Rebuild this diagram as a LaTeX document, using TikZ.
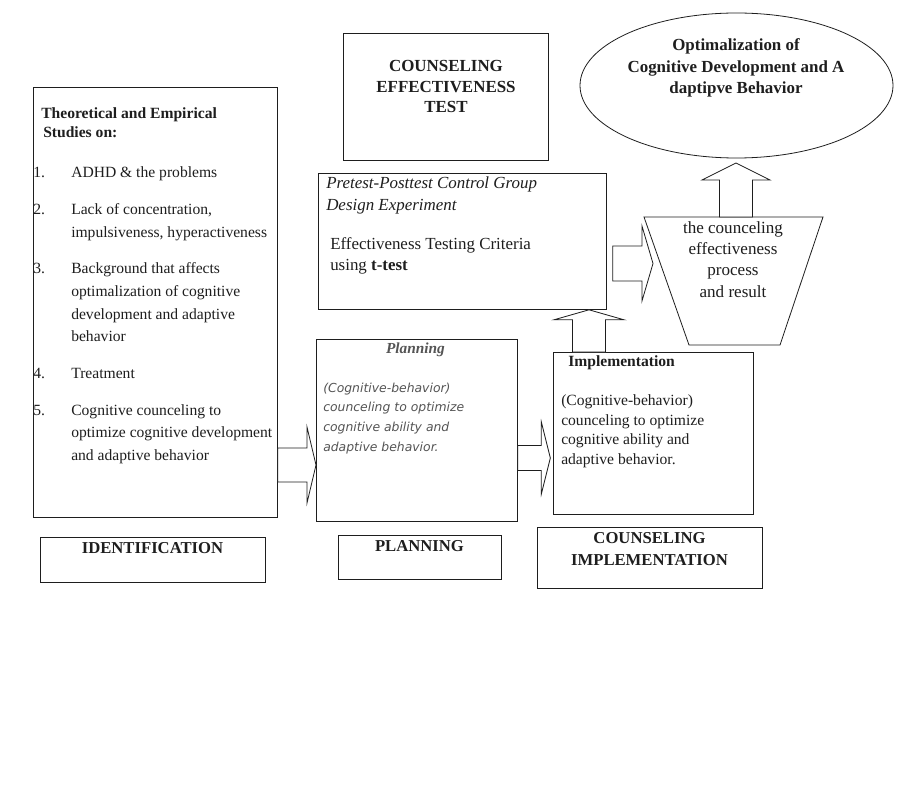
\documentclass[tikz,border=0pt]{standalone}
\usepackage{fontspec}
\setmainfont{Liberation Serif}
\newfontfamily\plansans{DejaVu Sans}
\usepackage{tikz}
\usetikzlibrary{calc,positioning,shapes.geometric}
\definecolor{inkgray}{RGB}{30,30,30}
\definecolor{planninggray}{RGB}{85,85,85}
\tikzset{
  box/.style={draw=inkgray,line width=0.6pt,rectangle,inner sep=0pt,anchor=north west},
  blockarrow/.style={draw=inkgray,line width=0.6pt,fill=white},
  bodytext/.style={inner sep=0pt,text=inkgray,font=\fontsize{11.7}{14.6}\selectfont},
  headtext/.style={inner sep=0pt,text=inkgray,anchor=base,align=center}
}
% block arrows, sizes in pt: start, tip, shaft half, head half, head length
\newcommand{\rightblock}[5]{%
  \draw[blockarrow] let \p1=#1, \p2=#2 in
    ({\x1},{\y1+#3}) -- ({\x2-#5},{\y1+#3}) -- ({\x2-#5},{\y1+#4}) -- ({\x2},{\y1})
    -- ({\x2-#5},{\y1-#4}) -- ({\x2-#5},{\y1-#3}) -- ({\x1},{\y1-#3}) -- cycle;}
\newcommand{\upblock}[5]{%
  \draw[blockarrow] let \p1=#1, \p2=#2 in
    ({\x1+#3},{\y1}) -- ({\x1+#3},{\y2-#5}) -- ({\x1+#4},{\y2-#5}) -- ({\x1},{\y2})
    -- ({\x1-#4},{\y2-#5}) -- ({\x1-#3},{\y2-#5}) -- ({\x1-#3},{\y1}) -- cycle;}

\begin{document}
\begin{tikzpicture}[x=0.75pt,y=-0.75pt]
  \fill[white] (0,0) rectangle (918,795);
  \useasboundingbox (0,0) rectangle (918,795);

  % identification
  \node[box,minimum width=183pt,minimum height=322.5pt] (studies) at (33,87) {};
  \node[box,minimum width=168.75pt,minimum height=33.75pt] (ident) at (40,537) {};
  \node[bodytext,anchor=base west,align=left,font=\bfseries\fontsize{11.7}{14.3}\selectfont]
    (studiestitle) at (41,138) {Theoretical and Empirical\\\hspace{1.5pt}Studies on:};
  \node[bodytext,anchor=north west,font=\fontsize{11.7}{17}\selectfont] (studylist) at (33,161.6) {%
    \begin{tabular}{@{}p{28.5pt}@{}l@{}}
    1. & ADHD \& the problems\\[10.5pt]
    2. & Lack of concentration,\\
       & impulsiveness, hyperactiveness\\[10.5pt]
    3. & Background that affects\\
       & optimalization of cognitive\\
       & development and adaptive\\
       & behavior\\[10.5pt]
    4. & Treatment\\[10.5pt]
    5. & Cognitive counceling to\\
       & optimize cognitive development\\
       & and adaptive behavior
    \end{tabular}};
  \node[headtext,font=\bfseries\fontsize{12.5}{15}\selectfont] (identtext) at (152.5,553.6) {IDENTIFICATION};

  % planning
  \node[box,minimum width=150.75pt,minimum height=136.5pt] (plan) at (316,339) {};
  \node[box,minimum width=122.25pt,minimum height=33pt] (planlabel) at (338,535) {};
  \node[headtext,text=planninggray,font=\bfseries\itshape\fontsize{11.5}{14}\selectfont]
    (plantitle) at (415.5,353) {Planning};
  \node[bodytext,anchor=base west,align=left,text=planninggray,font=\plansans\itshape\fontsize{9.3}{14.7}\selectfont]
    (plantext) at (323,451) {(Cognitive-behavior)\\counceling to optimize\\cognitive ability and\\adaptive behavior.};
  \node[headtext,font=\bfseries\fontsize{12.5}{15}\selectfont] (planlabeltext) at (419.5,551.6) {PLANNING};

  % implementation
  \node[box,minimum width=150pt,minimum height=121.5pt] (impl) at (553,352) {};
  \node[box,minimum width=168.75pt,minimum height=45.75pt] (impllabel) at (537,527) {};
  \node[bodytext,anchor=base west,font=\bfseries\fontsize{11.7}{14.6}\selectfont]
    (impltitle) at (568,366.5) {Implementation};
  \node[bodytext,anchor=base west,align=left] (impltext) at (561,464)
    {(Cognitive-behavior)\\counceling to optimize\\cognitive ability and\\adaptive behavior.};
  \node[headtext,font=\bfseries\fontsize{12.5}{16.5}\selectfont] (impllabeltext) at (649.5,565.6)
    {COUNSELING\\IMPLEMENTATION};

  % effectiveness test
  \node[box,minimum width=153.75pt,minimum height=95.25pt] (testlabel) at (343,33) {};
  \node[headtext,font=\bfseries\fontsize{12.7}{15.4}\selectfont] (testlabeltext) at (446,112.6)
    {COUNSELING\\EFFECTIVENESS\\TEST};
  \node[box,minimum width=216pt,minimum height=102pt] (test) at (318,173) {};
  \node[bodytext,anchor=base west,align=left,font=\itshape\fontsize{12.7}{16.5}\selectfont]
    (testtitle) at (326,210.5) {Pretest-Posttest Control Group\\Design Experiment};
  \node[bodytext,anchor=base west,align=left,font=\fontsize{12.7}{15.75}\selectfont]
    (testtext) at (330,270.5) {Effectiveness Testing Criteria\\using \textbf{t-test}};

  % result (funnel) and goal
  \draw[draw=inkgray,line width=0.6pt] (644,217) -- (823,217) -- (780,345) -- (689,345) -- cycle;
  \coordinate (resulttop) at (736,217);
  \coordinate (resultin) at (653,263.5);
  \node[headtext,font=\fontsize{12.8}{16}\selectfont] (resulttext) at (733,297)
    {the counceling\\effectiveness\\process\\and result};
  \node[draw=inkgray,line width=0.6pt,ellipse,minimum width=234.75pt,minimum height=108.75pt,
    inner sep=0pt] (goal) at (736.5,85.5) {};
  \node[headtext,font=\bfseries\fontsize{12.7}{16.1}\selectfont] (goaltext) at (736,93.6)
    {Optimalization of\\Cognitive Development and A\\daptipve Behavior};
  \coordinate (goalin) at (736,163);

  % arrows
  \rightblock{(studies.east |- 0,465)}{(plan.west |- 0,465)}{12.75pt}{28.5pt}{6.75pt}
  \rightblock{(plan.east |- 0,458)}{([xshift=-2pt]impl.west |- 0,458)}{9.4pt}{27pt}{6.75pt}
  \rightblock{([xshift=4.5pt]test.east |- 0,263.5)}{(resultin)}{13.1pt}{28.1pt}{8.25pt}
  \upblock{(589,0 |- impl.north)}{(589,0 |- test.south)}{12.4pt}{26.25pt}{7.5pt}
  \upblock{(resulttop)}{(goalin)}{12.4pt}{25.5pt}{12.75pt}
\end{tikzpicture}
\end{document}
